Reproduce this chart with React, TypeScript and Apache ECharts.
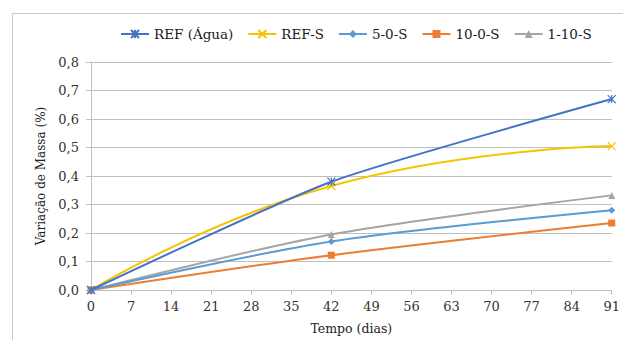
import React, { useEffect, useRef } from "react";
import * as echarts from "echarts";

const days = [0, 42, 91];
const seriesNames = ["REF (Água)", "REF-S", "5-0-S", "10-0-S", "1-10-S"];
const refAgua = [0, 0.38, 0.67];
const refS = [0, 0.365, 0.505];
const s5_0 = [0, 0.17, 0.28];
const s10_0 = [0, 0.122, 0.235];
const s1_10 = [0, 0.195, 0.332];
const colors = ["#4472C4", "#F5C400", "#5B9BD5", "#ED7D31", "#A5A5A5"];
const yTicks = [0, 0.1, 0.2, 0.3, 0.4, 0.5, 0.6, 0.7, 0.8];

const asterisk = "path://M0,0L10,10M10,0L0,10M5,0L5,10";
const crossX = "path://M0,0L10,10M10,0L0,10";

export default function App() {
  const ref = useRef<HTMLDivElement>(null);
  useEffect(() => {
    document.body.style.margin = "0";
    const chart = echarts.init(ref.current!, null, { renderer: "svg" });
    const font = "DejaVu Serif";
    const values = [refAgua, refS, s5_0, s10_0, s1_10];
    const symbols = [asterisk, crossX, "diamond", "rect", "triangle"];
    const sizes = [8, 8, 7, 7, 7];
    const smooths = [0.2, 0.5, 0.3, 0.3, 0.3];
    const series = values.map((v, i) => ({
      name: seriesNames[i],
      type: "line",
      smooth: smooths[i],
      data: days.map((d, j) => [d, v[j]]),
      symbol: symbols[i],
      symbolSize: sizes[i],
      showSymbol: true,
      lineStyle: { color: colors[i], width: 2 },
      itemStyle: { color: colors[i], borderColor: colors[i], borderWidth: i < 2 ? 1.2 : 0 },
      z: 10 - i,
    }));
    chart.setOption({
      animation: false,
      backgroundColor: "#ffffff",
      textStyle: { fontFamily: font },
      legend: {
        left: 115,
        top: 22,
        width: 505,
        itemWidth: 28,
        itemHeight: 10,
        itemGap: 14,
        textStyle: { fontFamily: font, fontSize: 13.5, color: "#1a1a1a" },
        data: seriesNames,
      },
      grid: { left: 91, right: 11, top: 62, bottom: 48 },
      xAxis: {
        type: "value",
        min: 0,
        max: 91,
        interval: 7,
        name: "Tempo (dias)",
        nameLocation: "middle",
        nameGap: 32,
        nameTextStyle: { fontFamily: font, fontSize: 12.5, color: "#222" },
        axisLine: { lineStyle: { color: "#bfbfbf" } },
        axisTick: { show: true, length: 5, lineStyle: { color: "#bfbfbf" } },
        axisLabel: { fontFamily: font, fontSize: 13, color: "#333", margin: 10 },
        splitLine: { show: false },
      },
      yAxis: {
        type: "value",
        min: 0,
        max: 0.8,
        interval: 0.1,
        name: "Variação de Massa (%)",
        nameLocation: "middle",
        nameGap: 42,
        nameTextStyle: { fontFamily: font, fontSize: 12, color: "#222" },
        axisLine: { show: true, lineStyle: { color: "#bfbfbf" } },
        axisTick: { show: true, length: 5, lineStyle: { color: "#bfbfbf" } },
        axisLabel: {
          fontFamily: font,
          fontSize: 13,
          color: "#333",
          margin: 12,
          formatter: (v: number) => {
            const t = yTicks.find((y) => Math.abs(y - v) < 1e-6);
            return (t ?? v).toFixed(1).replace(".", ",");
          },
        },
        splitLine: { show: true, lineStyle: { color: "#bfbfbf" } },
      },
      graphic: [
        {
          type: "rect",
          shape: { x: 12.5, y: 13.5, width: 700, height: 400 },
          style: { fill: "none", stroke: "#c8c8c8", lineWidth: 1 },
          silent: true,
        },
      ],
      series,
    });
    return () => chart.dispose();
  }, []);
  return (
    <div
      ref={ref}
      style={{ position: "fixed", left: 0, top: 0, width: 623, height: 340 }}
    />
  );
}
